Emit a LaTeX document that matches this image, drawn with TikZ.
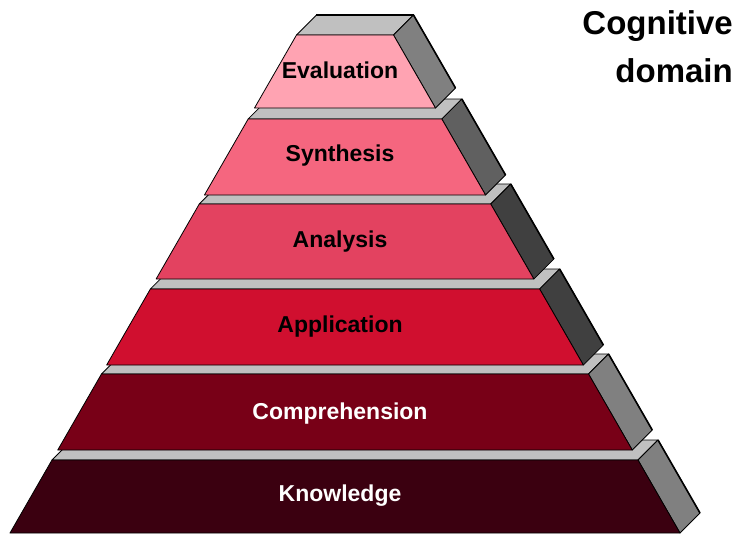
\documentclass[tikz,border=0pt]{standalone}
\usepackage{fontspec}
\setmainfont{Liberation Sans}

\definecolor{knowcol}{HTML}{3B0010}
\definecolor{compcol}{HTML}{780017}
\definecolor{applcol}{HTML}{D00F2F}
\definecolor{analcol}{HTML}{E34260}
\definecolor{synthcol}{HTML}{F5667F}
\definecolor{evalcol}{HTML}{FFA3B2}
\definecolor{ledgecol}{HTML}{C0C0C0}
\definecolor{sidelight}{HTML}{808080}
\definecolor{sidemid}{HTML}{606060}
\definecolor{sidedark}{HTML}{404040}

\tikzset{
  levellabel/.style={font=\fontsize{23}{27}\selectfont\bfseries, inner sep=0pt, anchor=base},
  titlelabel/.style={font=\fontsize{33}{40}\selectfont\bfseries, inner sep=0pt, anchor=base east},
}

\begin{document}
\begin{tikzpicture}[x=1pt,y=-1pt,line join=round]
        \useasboundingbox (0,0) rectangle (738,535);

        % Levels, bottom to top
        \foreach \yt/\yb/\fc/\sc/\nm/\txt/\tc/\bl in {
            460/533/knowcol/sidelight/know/Knowledge/white/501,
            374/450/compcol/sidelight/comp/Comprehension/white/419,
            289/365/applcol/sidedark/appl/Application/black/332,
            204/279/analcol/sidedark/anal/Analysis/black/247,
            119/195/synthcol/sidemid/synth/Synthesis/black/161,
            35/108/evalcol/sidelight/eval/Evaluation/black/78}{
          \pgfmathsetmacro{\xtl}{345-48.5-0.5753*(\yt-35)}
          \pgfmathsetmacro{\xtr}{345+48.5+0.5753*(\yt-35)}
          \pgfmathsetmacro{\xbl}{345-48.5-0.5753*(\yb-35)}
          \pgfmathsetmacro{\xbr}{345+48.5+0.5753*(\yb-35)}
          % Top face
          \filldraw[fill=ledgecol,draw=black,line width=0.8pt]
            (\xtl,\yt) -- (\xtr,\yt) -- (\xtr+20,\yt-20) -- (\xtl+20,\yt-20) -- cycle;
          % Side face
          \filldraw[fill=\sc,draw=black,line width=0.8pt]
            (\xtr,\yt) -- (\xbr,\yb) -- (\xbr+20,\yb-20) -- (\xtr+20,\yt-20) -- cycle;
          \draw[line width=1.6pt] (\xtr+20,\yt-20) -- (\xbr+20,\yb-20);
          % Front face
          \filldraw[fill=\fc,draw=black,line width=0.8pt]
            (\xtl,\yt) -- (\xtr,\yt) -- (\xbr,\yb) -- (\xbl,\yb) -- cycle;
          % Label
          \node[levellabel,text=\tc] (\nm) at (340,\bl) {\txt};
        }

        % Top edge of the cap
        \draw[line width=2pt] (316,15) -- (414,15);

        % Title
        \node[titlelabel] (cog) at (733,35) {Cognitive};
        \node[titlelabel] (dom) at (733,82) {domain};
\end{tikzpicture}
\end{document}
